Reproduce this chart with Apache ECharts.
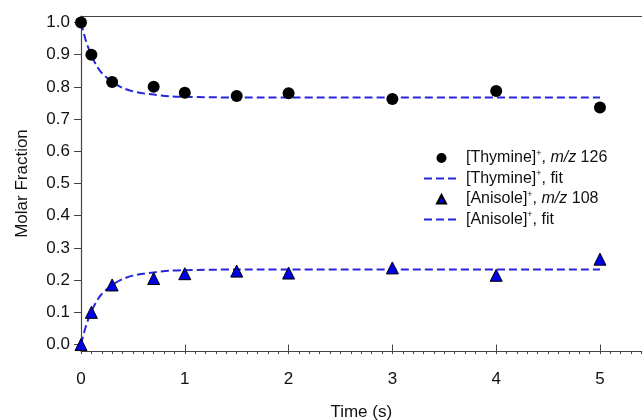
<!DOCTYPE html>
<html>
<head>
<meta charset="utf-8">
<script src="https://cdn.jsdelivr.net/npm/echarts@6/dist/echarts.min.js"></script>
<style>
  html, body { margin: 0; padding: 0; background: #fff; }
  #chart { width: 643px; height: 420px; }
</style>
</head>
<body>
<div id="chart"></div>
<script>
// measured points
var thymineTime = [0, 0.1, 0.3, 0.7, 1.0, 1.5, 2, 3, 4, 5];
var thymineFrac = [1.0, 0.90, 0.815, 0.80, 0.782, 0.772, 0.78, 0.762, 0.787, 0.736];
var anisoleTime = [0, 0.1, 0.3, 0.7, 1.0, 1.5, 2, 3, 4, 5];
var anisoleFrac = [0.0, 0.10, 0.185, 0.205, 0.22, 0.228, 0.222, 0.238, 0.215, 0.265];

// fit curves
var fitTime = [0, 0.05, 0.1, 0.15, 0.2, 0.3, 0.4, 0.5, 0.6, 0.7, 0.85, 1.0, 1.5, 5];
var thymineFit = [1.0, 0.94, 0.898, 0.866, 0.843, 0.815, 0.797, 0.786, 0.780, 0.776, 0.771, 0.769, 0.767, 0.767];
var anisoleFit = [0.0, 0.06, 0.102, 0.134, 0.157, 0.185, 0.203, 0.214, 0.220, 0.224, 0.229, 0.231, 0.233, 0.233];

// tick labels
var xTicks = [0, 1, 2, 3, 4, 5];
var yTicks = [0, 0.1, 0.2, 0.3, 0.4, 0.5, 0.6, 0.7, 0.8, 0.9, 1.0];

function pairs(xs, ys) {
    return xs.map(function (x, i) { return [x, ys[i]]; });
}

var axisColor = '#444';
var fitColor = '#2626dc';
var font = 'Liberation Sans, Arial, sans-serif';
// legend triangle, padded out to the 35x10 icon box so it is not stretched
var legendTriangle = 'path://M0,0M35,10M13,9.5L17.5,1L22,9.5Z';
// move-only path: has a size but draws nothing (no marker on the fit legend lines)
var noMarker = 'path://M0,0M10,10';

var myChart = echarts.init(document.getElementById('chart'));

var option = {
    animation: false,
    textStyle: { fontFamily: font },
    grid: { left: 81, right: 1.5, top: 16, bottom: 69, outerBoundsMode: 'none', containLabel: false },
    legend: {
        orient: 'vertical',
        left: 418,
        top: 144,
        itemWidth: 35,
        itemHeight: 10,
        itemGap: 3.5,
        data: [
            { name: 'thy', icon: 'circle' },
            { name: 'thyfit' },
            { name: 'ani', icon: legendTriangle },
            { name: 'anifit' }
        ],
        formatter: function (name) {
            if (name === 'thy') return '{t|[Thymine]}{s|+}{t|, }{i|m/z}{t| 126}';
            if (name === 'thyfit') return '{t|[Thymine]}{s|+}{t|, fit}';
            if (name === 'ani') return '{t|[Anisole]}{s|+}{t|, }{i|m/z}{t| 108}';
            return '{t|[Anisole]}{s|+}{t|, fit}';
        },
        textStyle: {
            padding: [0, 0, 0, 2],
            rich: {
                t: { fontSize: 16, color: '#111', lineHeight: 18, fontFamily: font },
                i: { fontSize: 16, color: '#111', lineHeight: 18, fontStyle: 'italic', fontFamily: font },
                s: { fontSize: 9, color: '#111', lineHeight: 18, verticalAlign: 'top', fontFamily: font }
            }
        }
    },
    xAxis: [
        {
            // minor ticks + axis line
            type: 'value',
            position: 'bottom',
            min: 0,
            max: 5.4,
            interval: 0.1,
            axisLine: { show: true, onZero: false, lineStyle: { color: axisColor, width: 1.2 } },
            axisTick: { show: true, length: 3, lineStyle: { color: axisColor } },
            axisLabel: { show: false },
            splitLine: { show: false }
        },
        {
            // major ticks + labels
            type: 'value',
            position: 'bottom',
            min: 0,
            max: 5.4,
            name: 'Time (s)',
            nameLocation: 'middle',
            nameGap: 53,
            nameTextStyle: { fontSize: 17, color: '#111' },
            axisLine: { show: false },
            axisTick: { show: true, length: 7, customValues: xTicks, lineStyle: { color: axisColor } },
            axisLabel: { show: true, customValues: xTicks, margin: 20, fontSize: 17, color: '#111' },
            splitLine: { show: false }
        },
        {
            // top border
            type: 'value',
            position: 'top',
            min: 0,
            max: 5.4,
            axisLine: { show: true, onZero: false, lineStyle: { color: axisColor, width: 1.2 } },
            axisTick: { show: false },
            axisLabel: { show: false },
            splitLine: { show: false }
        }
    ],
    yAxis: {
        type: 'value',
        min: -0.02,
        max: 1.02,
        name: 'Molar Fraction',
        nameLocation: 'middle',
        nameGap: 50,
        nameTextStyle: { fontSize: 17, color: '#111' },
        axisLine: { show: true, onZero: false, lineStyle: { color: axisColor, width: 1.2 } },
        axisTick: { show: true, length: 7, customValues: yTicks, lineStyle: { color: axisColor } },
        axisLabel: {
            customValues: yTicks,
            margin: 11,
            fontSize: 17,
            color: '#111',
            formatter: function (v) { return v.toFixed(1); }
        },
        splitLine: { show: false }
    },
    series: [
        {
            name: 'thyfit',
            type: 'line',
            xAxisIndex: 0,
            data: pairs(fitTime, thymineFit),
            smooth: 0.3,
            symbol: noMarker,
            showSymbol: false,
            lineStyle: { color: fitColor, width: 2, type: [8, 4] },
            itemStyle: { color: fitColor },
            z: 2
        },
        {
            name: 'anifit',
            type: 'line',
            xAxisIndex: 0,
            data: pairs(fitTime, anisoleFit),
            smooth: 0.3,
            symbol: noMarker,
            showSymbol: false,
            lineStyle: { color: fitColor, width: 2, type: [8, 4] },
            itemStyle: { color: fitColor },
            z: 2
        },
        {
            name: 'thy',
            type: 'scatter',
            xAxisIndex: 0,
            data: pairs(thymineTime, thymineFrac),
            symbol: 'circle',
            symbolSize: 12,
            itemStyle: { color: '#000', opacity: 1 },
            z: 3
        },
        {
            name: 'ani',
            type: 'scatter',
            xAxisIndex: 0,
            data: pairs(anisoleTime, anisoleFrac),
            symbol: 'triangle',
            symbolSize: 12,
            itemStyle: { color: '#0000e6', borderColor: '#000', borderWidth: 1, opacity: 1 },
            z: 3
        }
    ]
};

myChart.setOption(option, true);
</script>
</body>
</html>
